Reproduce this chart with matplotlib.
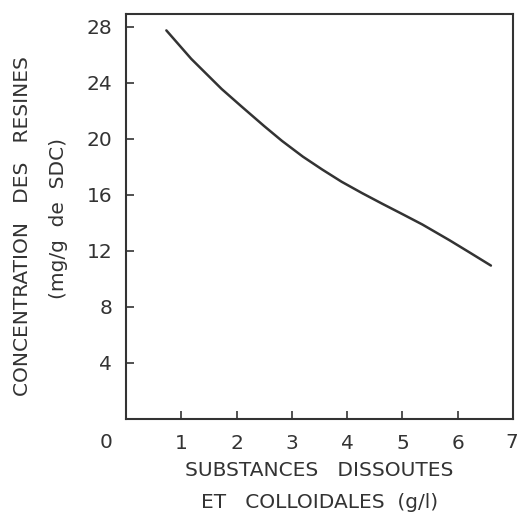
import matplotlib
matplotlib.use("Agg")
import matplotlib.pyplot as plt

# Data
sdc = [0.73, 1.18, 1.73, 2.09, 2.50, 2.82, 3.20, 3.55, 3.90, 4.27, 4.64,
       5.00, 5.36, 5.85, 6.20, 6.60]
resines = [27.73, 25.70, 23.55, 22.30, 20.90, 19.85, 18.72, 17.80, 16.93,
           16.12, 15.35, 14.62, 13.88, 12.76, 11.92, 10.95]
x_ticks = [1, 2, 3, 4, 5, 6]
y_ticks = [4, 8, 12, 16, 20, 24, 28]

ink = "#333333"
plt.rcParams['font.family'] = ['DejaVu Sans']

fig = plt.figure(figsize=(5.17, 5.13), dpi=100)
ax = fig.add_axes([0.2437, 0.1832, 0.9923 - 0.2437, 0.9727 - 0.1832])

ax.plot(sdc, resines, color=ink, lw=1.8, solid_capstyle='round')

ax.set_xlim(0, 7)
ax.set_ylim(0, 28.9)
ax.set_xticks(x_ticks)
ax.set_yticks(y_ticks)
ax.tick_params(axis='both', direction='in', length=6, width=1.2, color=ink,
               labelsize=14.5, labelcolor=ink)
ax.tick_params(axis='x', pad=11)
ax.tick_params(axis='y', pad=10)
for s in ax.spines.values():
    s.set_color(ink)
    s.set_linewidth(1.5)

# corner labels "0" and "7"
ax.text(-0.36, -1.66, "0", ha='center', va='center', fontsize=14.5, color=ink)
ax.text(6.98, -1.66, "7", ha='center', va='center', fontsize=14.5, color=ink)

ax.text(0.5, -0.126, "SUBSTANCES   DISSOUTES", transform=ax.transAxes,
        ha='center', va='center', fontsize=14.5, color=ink)
ax.text(0.5, -0.205, "ET   COLLOIDALES  (g/l)", transform=ax.transAxes,
        ha='center', va='center', fontsize=14.5, color=ink)

fig.text(23 / 517, 1 - 226 / 513, "CONCENTRATION   DES   RESINES", rotation=90,
         ha='center', va='center', fontsize=14.5, color=ink)
fig.text(58 / 517, 1 - 219 / 513, "(mg/g  de  SDC)", rotation=90,
         ha='center', va='center', fontsize=14.5, color=ink)

fig.savefig("out.png", dpi=100)
